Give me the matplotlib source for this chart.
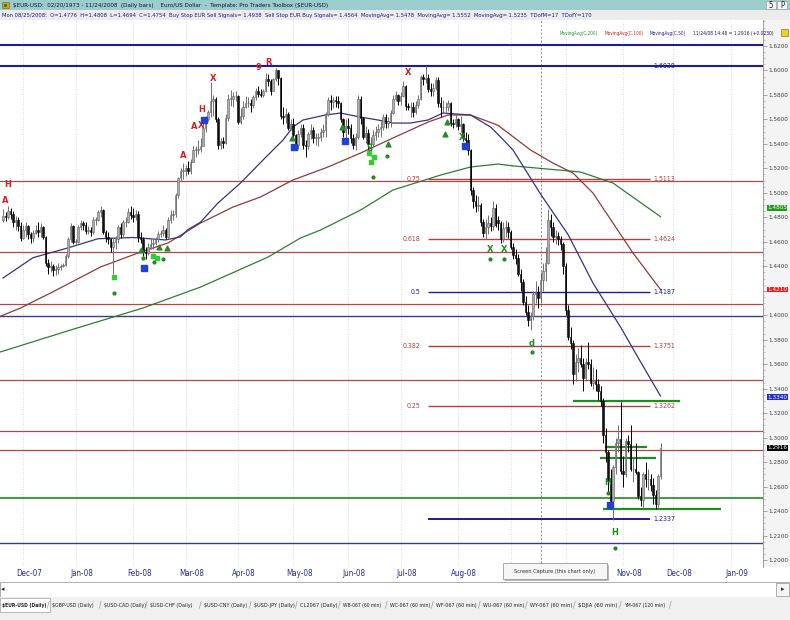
import os
import matplotlib
matplotlib.use("Agg")
import matplotlib.pyplot as plt
import matplotlib.transforms as mtrans
from matplotlib import font_manager as fm
from matplotlib.patches import Rectangle
import numpy as np
import pandas as pd

W, H = 790, 620


# ---------- pick a condensed sans font if one is installed ----------
def _find_font(bold):
    bad = ["italic", "oblique", "light", "thin", "medium", "black", "semi", "extra", "ultra", "book", "mono"]
    order = ["liberation", "dejavu", "noto", "roboto", "opensans", "lato", ""]
    found = []
    for f in fm.fontManager.ttflist:
        key = os.path.basename(f.fname).lower().replace("-", "").replace("_", "").replace(" ", "")
        if not ("narrow" in key or "condensed" in key):
            continue
        if any(b in key for b in bad):
            continue
        if bold != ("bold" in key):
            continue
        rank = next(i for i, o in enumerate(order) if o in key)
        found.append((rank, f.fname))
    found.sort()
    return found[0][1] if found else None


_reg = _find_font(False)
_bold = _find_font(True) or _reg


def FP(size, bold=False):
    path = _bold if bold else _reg
    if path:
        return fm.FontProperties(fname=path, size=size)
    return fm.FontProperties(family="Liberation Sans", size=size, weight="bold" if bold else "normal")


# ---------------- data (daily bars, 21 Nov 2007 .. 24 Nov 2008) ----------------
first_day = "2007-11-21"
last_day = "2008-11-24"

opens = [
    1.4780, 1.4810, 1.4800, 1.4850, 1.4830, 1.4760, 1.4780, 1.4730,  # Nov 07
    1.4630, 1.4700, 1.4730, 1.4660, 1.4630, 1.4670, 1.4700, 1.4680, 1.4720, 1.4640,
    1.4430, 1.4390, 1.4400, 1.4370, 1.4380, 1.4390, 1.4400, 1.4410, 1.4480, 1.4620, 1.4730,  # Dec
    1.4600, 1.4600, 1.4720, 1.4750, 1.4740, 1.4690, 1.4700, 1.4680, 1.4780, 1.4780,
    1.4840, 1.4860, 1.4680, 1.4640, 1.4620, 1.4560, 1.4600, 1.4620, 1.4720, 1.4660,
    1.4760, 1.4760, 1.4840,  # Jan
    1.4820, 1.4800, 1.4830, 1.4640, 1.4620, 1.4520, 1.4510, 1.4560, 1.4580, 1.4590,
    1.4620, 1.4660, 1.4670, 1.4700, 1.4640, 1.4780, 1.4820, 1.4830, 1.4980, 1.5120, 1.5180,  # Feb
    1.5180, 1.5200, 1.5180, 1.5250, 1.5350, 1.5350, 1.5360, 1.5380, 1.5530, 1.5600,
    1.5660, 1.5750, 1.5770, 1.5600, 1.5390, 1.5420, 1.5410, 1.5610, 1.5770, 1.5770, 1.5790,  # Mar
    1.5790, 1.5580, 1.5630, 1.5700, 1.5730, 1.5730, 1.5720, 1.5780, 1.5830, 1.5810,
    1.5800, 1.5830, 1.5930, 1.5910, 1.5830, 1.5930, 1.6000, 1.5940, 1.5630, 1.5620, 1.5640, 1.5530,  # Apr
    1.5560, 1.5470, 1.5390, 1.5480, 1.5530, 1.5390, 1.5380, 1.5480, 1.5510, 1.5450,
    1.5450, 1.5460, 1.5500, 1.5510, 1.5640, 1.5760, 1.5740, 1.5760, 1.5750, 1.5730, 1.5600, 1.5500,  # May
    1.5550, 1.5530, 1.5450, 1.5390, 1.5460, 1.5770, 1.5610, 1.5460, 1.5490, 1.5400,
    1.5400, 1.5470, 1.5500, 1.5520, 1.5540, 1.5620, 1.5570, 1.5590, 1.5650, 1.5770, 1.5800,  # Jun
    1.5750, 1.5790, 1.5870, 1.5710, 1.5700, 1.5700, 1.5660, 1.5720, 1.5770, 1.5950,
    1.5930, 1.5940, 1.5850, 1.5830, 1.5860, 1.5920, 1.5730, 1.5700, 1.5700, 1.5700,
    1.5730, 1.5570, 1.5560,  # Jul
    1.5600, 1.5550, 1.5560, 1.5450, 1.5430, 1.5350, 1.5020, 1.4930, 1.4890, 1.4900,
    1.4760, 1.4670, 1.4720, 1.4750, 1.4730, 1.4880, 1.4776, 1.4754, 1.4620, 1.4710, 1.4720,  # Aug
    1.4680, 1.4560, 1.4490, 1.4470, 1.4340, 1.4270, 1.4110, 1.4030, 1.3960, 1.3990,
    1.4170, 1.4190, 1.4140, 1.4290, 1.4360, 1.4430, 1.4780, 1.4720, 1.4640, 1.4650,
    1.4620, 1.4580,  # Sep
    1.4400, 1.4040, 1.3820, 1.3770, 1.3520, 1.3620, 1.3650, 1.3600, 1.3490, 1.3620,
    1.3600, 1.3450, 1.3460, 1.3440, 1.3380, 1.3300, 1.3020, 1.2880, 1.2650, 1.2480,
    1.2760, 1.2960, 1.2990,  # Oct
    1.2730, 1.2700, 1.2970, 1.2950, 1.2740, 1.2740, 1.2720, 1.2520, 1.2490, 1.2700,
    1.2660, 1.2660, 1.2610, 1.2530, 1.2460, 1.2686,  # Nov
]
highs = [
    1.4870, 1.4840, 1.4890, 1.4880, 1.4850, 1.4810, 1.4800, 1.4760,
    1.4740, 1.4760, 1.4740, 1.4680, 1.4700, 1.4740, 1.4760, 1.4750, 1.4730, 1.4650,
    1.4460, 1.4440, 1.4420, 1.4410, 1.4430, 1.4420, 1.4430, 1.4500, 1.4640, 1.4750, 1.4740,
    1.4620, 1.4740, 1.4780, 1.4770, 1.4760, 1.4730, 1.4720, 1.4800, 1.4800, 1.4860,
    1.4890, 1.4870, 1.4700, 1.4680, 1.4630, 1.4640, 1.4650, 1.4740, 1.4750, 1.4780,
    1.4800, 1.4880, 1.4890,
    1.4880, 1.4860, 1.4850, 1.4680, 1.4640, 1.4560, 1.4590, 1.4630, 1.4620, 1.4640,
    1.4690, 1.4700, 1.4740, 1.4710, 1.4800, 1.4860, 1.4860, 1.5000, 1.5130, 1.5200, 1.5240,
    1.5230, 1.5260, 1.5280, 1.5380, 1.5380, 1.5430, 1.5450, 1.5570, 1.5630, 1.5680,
    1.5905, 1.5800, 1.5780, 1.5620, 1.5450, 1.5460, 1.5640, 1.5810, 1.5840, 1.5820, 1.5830,
    1.5800, 1.5690, 1.5750, 1.5790, 1.5780, 1.5770, 1.5800, 1.5860, 1.5870, 1.5850,
    1.5850, 1.5980, 1.5970, 1.5930, 1.5940, 1.6019, 1.6000, 1.5950, 1.5700, 1.5690, 1.5660, 1.5600,
    1.5610, 1.5480, 1.5510, 1.5560, 1.5560, 1.5430, 1.5500, 1.5560, 1.5540, 1.5490,
    1.5490, 1.5530, 1.5560, 1.5660, 1.5780, 1.5800, 1.5780, 1.5790, 1.5790, 1.5740, 1.5610, 1.5600,
    1.5610, 1.5560, 1.5480, 1.5490, 1.5800, 1.5790, 1.5620, 1.5550, 1.5520, 1.5460,
    1.5510, 1.5550, 1.5560, 1.5590, 1.5640, 1.5640, 1.5620, 1.5680, 1.5800, 1.5830, 1.5810,
    1.5820, 1.5910, 1.5880, 1.5730, 1.5740, 1.5740, 1.5750, 1.5800, 1.5960, 1.5970,
    1.6038, 1.5970, 1.5900, 1.5900, 1.5950, 1.5950, 1.5780, 1.5760, 1.5740, 1.5760,
    1.5740, 1.5600, 1.5640,
    1.5610, 1.5630, 1.5570, 1.5500, 1.5480, 1.5360, 1.5050, 1.4980, 1.4970, 1.4920,
    1.4790, 1.4790, 1.4820, 1.4800, 1.4930, 1.4910, 1.4808, 1.4770, 1.4760, 1.4780, 1.4760,
    1.4700, 1.4590, 1.4540, 1.4500, 1.4380, 1.4300, 1.4160, 1.4080, 1.4030, 1.4200,
    1.4280, 1.4240, 1.4350, 1.4430, 1.4560, 1.4867, 1.4830, 1.4760, 1.4700, 1.4680,
    1.4650, 1.4600,
    1.4430, 1.4080, 1.3900, 1.3800, 1.3680, 1.3730, 1.3760, 1.3650, 1.3650, 1.3780,
    1.3640, 1.3580, 1.3560, 1.3480, 1.3420, 1.3320, 1.3080, 1.2900, 1.2740, 1.2780,
    1.3000, 1.3100, 1.3290,
    1.2850, 1.3000, 1.3020, 1.3100, 1.2830, 1.2960, 1.2730, 1.2600, 1.2720, 1.2800,
    1.2740, 1.2700, 1.2670, 1.2570, 1.2700, 1.2960,
]
lows = [
    1.4760, 1.4770, 1.4790, 1.4790, 1.4720, 1.4700, 1.4690, 1.4610,
    1.4620, 1.4640, 1.4620, 1.4590, 1.4600, 1.4660, 1.4640, 1.4640, 1.4620, 1.4400,
    1.4340, 1.4350, 1.4320, 1.4330, 1.4340, 1.4370, 1.4390, 1.4400, 1.4470, 1.4600, 1.4580,
    1.4580, 1.4590, 1.4700, 1.4700, 1.4660, 1.4660, 1.4650, 1.4660, 1.4740, 1.4770,
    1.4800, 1.4660, 1.4600, 1.4580, 1.4520, 1.4340, 1.4540, 1.4590, 1.4630, 1.4640,
    1.4720, 1.4750, 1.4790,
    1.4760, 1.4780, 1.4600, 1.4590, 1.4480, 1.4460, 1.4490, 1.4540, 1.4540, 1.4570,
    1.4600, 1.4640, 1.4650, 1.4620, 1.4630, 1.4750, 1.4780, 1.4800, 1.4960, 1.5100, 1.5110,
    1.5140, 1.5150, 1.5150, 1.5250, 1.5290, 1.5320, 1.5330, 1.5380, 1.5500, 1.5590,
    1.5620, 1.5630, 1.5580, 1.5360, 1.5360, 1.5370, 1.5400, 1.5590, 1.5710, 1.5700, 1.5750,
    1.5560, 1.5560, 1.5600, 1.5690, 1.5700, 1.5660, 1.5690, 1.5760, 1.5780, 1.5780,
    1.5780, 1.5820, 1.5870, 1.5800, 1.5830, 1.5910, 1.5880, 1.5600, 1.5560, 1.5570, 1.5510, 1.5510,
    1.5440, 1.5350, 1.5360, 1.5460, 1.5360, 1.5290, 1.5360, 1.5440, 1.5410, 1.5390,
    1.5380, 1.5420, 1.5460, 1.5460, 1.5630, 1.5680, 1.5690, 1.5700, 1.5690, 1.5580, 1.5460, 1.5450,
    1.5480, 1.5410, 1.5360, 1.5350, 1.5440, 1.5560, 1.5440, 1.5410, 1.5360, 1.5300,
    1.5380, 1.5430, 1.5460, 1.5460, 1.5510, 1.5530, 1.5530, 1.5540, 1.5640, 1.5750, 1.5720,
    1.5720, 1.5780, 1.5680, 1.5680, 1.5620, 1.5620, 1.5640, 1.5690, 1.5760, 1.5880,
    1.5900, 1.5820, 1.5790, 1.5790, 1.5840, 1.5700, 1.5620, 1.5650, 1.5660, 1.5670,
    1.5550, 1.5530, 1.5540,
    1.5510, 1.5500, 1.5420, 1.5400, 1.5310, 1.4980, 1.4880, 1.4840, 1.4850, 1.4730,
    1.4640, 1.4620, 1.4660, 1.4690, 1.4700, 1.4720, 1.4694, 1.4590, 1.4600, 1.4640, 1.4630,
    1.4540, 1.4460, 1.4420, 1.4320, 1.4200, 1.4080, 1.4000, 1.3910, 1.3880, 1.3960,
    1.4100, 1.4060, 1.4100, 1.4200, 1.4280, 1.4420, 1.4650, 1.4600, 1.4580, 1.4570,
    1.4530, 1.4340,
    1.4000, 1.3800, 1.3720, 1.3440, 1.3460, 1.3540, 1.3580, 1.3380, 1.3460, 1.3560,
    1.3420, 1.3400, 1.3380, 1.3310, 1.3260, 1.2960, 1.2800, 1.2540, 1.2420, 1.2330,
    1.2700, 1.2880, 1.2700,
    1.2600, 1.2680, 1.2880, 1.2730, 1.2640, 1.2700, 1.2500, 1.2440, 1.2430, 1.2600,
    1.2570, 1.2560, 1.2460, 1.2420, 1.2430, 1.2660,
]
closes = [
    1.4810, 1.4800, 1.4850, 1.4830, 1.4760, 1.4780, 1.4730, 1.4630,
    1.4700, 1.4730, 1.4660, 1.4630, 1.4670, 1.4700, 1.4680, 1.4720, 1.4640, 1.4430,
    1.4390, 1.4400, 1.4370, 1.4380, 1.4390, 1.4400, 1.4410, 1.4480, 1.4620, 1.4730, 1.4600,
    1.4600, 1.4720, 1.4750, 1.4740, 1.4690, 1.4700, 1.4680, 1.4780, 1.4780, 1.4840,
    1.4860, 1.4680, 1.4640, 1.4620, 1.4560, 1.4600, 1.4620, 1.4720, 1.4660, 1.4760,
    1.4760, 1.4840, 1.4820,
    1.4800, 1.4830, 1.4640, 1.4620, 1.4520, 1.4510, 1.4560, 1.4580, 1.4590, 1.4620,
    1.4660, 1.4670, 1.4700, 1.4640, 1.4780, 1.4820, 1.4830, 1.4980, 1.5120, 1.5180, 1.5180,
    1.5200, 1.5180, 1.5250, 1.5350, 1.5350, 1.5360, 1.5380, 1.5530, 1.5600, 1.5660,
    1.5750, 1.5770, 1.5600, 1.5390, 1.5420, 1.5410, 1.5610, 1.5770, 1.5770, 1.5790, 1.5790,
    1.5580, 1.5630, 1.5700, 1.5730, 1.5730, 1.5720, 1.5780, 1.5830, 1.5810, 1.5800,
    1.5830, 1.5930, 1.5910, 1.5830, 1.5930, 1.6000, 1.5940, 1.5630, 1.5620, 1.5640, 1.5530, 1.5560,
    1.5470, 1.5390, 1.5480, 1.5530, 1.5390, 1.5380, 1.5480, 1.5510, 1.5450, 1.5450,
    1.5460, 1.5500, 1.5510, 1.5640, 1.5760, 1.5740, 1.5760, 1.5750, 1.5730, 1.5600, 1.5500, 1.5550,
    1.5530, 1.5450, 1.5390, 1.5460, 1.5770, 1.5610, 1.5460, 1.5490, 1.5400, 1.5400,
    1.5470, 1.5500, 1.5520, 1.5540, 1.5620, 1.5570, 1.5590, 1.5650, 1.5770, 1.5800, 1.5750,
    1.5790, 1.5870, 1.5710, 1.5700, 1.5700, 1.5660, 1.5720, 1.5770, 1.5950, 1.5930,
    1.5940, 1.5850, 1.5830, 1.5860, 1.5920, 1.5730, 1.5700, 1.5700, 1.5700, 1.5730,
    1.5570, 1.5560, 1.5600,
    1.5550, 1.5560, 1.5450, 1.5430, 1.5350, 1.5020, 1.4930, 1.4890, 1.4900, 1.4760,
    1.4670, 1.4720, 1.4750, 1.4730, 1.4880, 1.4740, 1.4754, 1.4620, 1.4710, 1.4720, 1.4680,
    1.4560, 1.4490, 1.4470, 1.4340, 1.4270, 1.4110, 1.4030, 1.3960, 1.3990, 1.4170,
    1.4190, 1.4140, 1.4290, 1.4360, 1.4430, 1.4780, 1.4720, 1.4640, 1.4650, 1.4620,
    1.4580, 1.4400,
    1.4040, 1.3820, 1.3770, 1.3520, 1.3620, 1.3650, 1.3600, 1.3490, 1.3620, 1.3600,
    1.3450, 1.3460, 1.3440, 1.3380, 1.3300, 1.3020, 1.2880, 1.2650, 1.2480, 1.2760,
    1.2960, 1.2990, 1.2730,
    1.2700, 1.2970, 1.2950, 1.2740, 1.2740, 1.2720, 1.2520, 1.2490, 1.2700, 1.2660,
    1.2660, 1.2610, 1.2530, 1.2460, 1.2686, 1.2916,
]

# moving averages (bar index, value); index 0 = 3 Dec 2007
ma50_x = [-8, 4, 18, 30, 44, 57, 63, 66, 71, 78, 87, 96, 104, 108, 112, 121, 127, 135,
          142, 148, 155, 162, 168, 179, 187, 190, 196, 207, 218, 228, 239, 247, 255]
ma50_y = [1.4304, 1.4470, 1.4550, 1.4625, 1.4635, 1.4615, 1.4640, 1.4700, 1.4760, 1.4917,
          1.5080, 1.5268, 1.5431, 1.5538, 1.5595, 1.5636, 1.5652, 1.5619, 1.5595, 1.5570,
          1.5570, 1.5595, 1.5652, 1.5636, 1.5538, 1.5478, 1.5350, 1.4990, 1.4660, 1.4263,
          1.3904, 1.3620, 1.3340]
ma100_x = [-9.2, -1, 7, 11, 31, 47, 58, 71, 84, 95, 108, 122, 135, 148, 162, 170, 179,
           190, 203, 212, 220, 228, 236, 244, 255]
ma100_y = [1.3990, 1.4059, 1.4141, 1.4181, 1.4394, 1.4516, 1.4590, 1.4753, 1.4884, 1.4966,
           1.5105, 1.5211, 1.5325, 1.5448, 1.5578, 1.5636, 1.5636, 1.5552, 1.5350, 1.5243,
           1.5162, 1.4998, 1.4753, 1.4508, 1.4210]
ma200_x = [-9.2, 19, 48, 71, 98, 111, 119, 135, 148, 167, 179, 190, 196, 210, 223, 236, 255]
ma200_y = [1.3699, 1.3879, 1.4059, 1.4230, 1.4475, 1.4631, 1.4696, 1.4859, 1.5023, 1.5145,
           1.5211, 1.5235, 1.5220, 1.5194, 1.5170, 1.5080, 1.4805]

# user drawn horizontal lines
navy_levels = [1.6204, 1.6036, 1.3993, 1.2139]
red_levels = [1.5100, 1.4516, 1.4092, 1.3471, 1.3054, 1.2899]
green_levels = [1.2507]
short_green = [(1.3299, 220, 262.8), (1.2923, 232.8, 249.6), (1.2833, 230.8, 253.2), (1.2417, 232, 279.2)]

# Fibonacci retracement (ratio, price)
fib_ratio = ["", "0.75", "0.618", "0.5", "0.382", "0.25", ""]
fib_price = [1.6038, 1.5113, 1.4624, 1.4187, 1.3751, 1.3262, 1.2337]
fib_start, fib_end = 162, 250.8

# signal markers (bar index, price)
red_sig = [(-6, 1.5064, "H"), (-7, 1.4941, "A"), (64, 1.5309, "A"), (68.6, 1.5538, "A"),
           (71.4, 1.5554, "X"), (71.5, 1.5680, "H"), (76, 1.5935, "X"), (94, 1.6020, "9"),
           (98, 1.6068, "R"), (154, 1.5979, "X")]
green_sig = [(186.8, 1.4533, "X"), (192.4, 1.4533, "X"), (175.6, 1.5448, "X"),
             (203.6, 1.3773, "d"), (234, 1.2637, "H"), (236.8, 1.2221, "H"), (138.4, 1.5360, "S")]
blue_sq = [(72.4, 1.5595), (108.4, 1.5374), (128.8, 1.5423), (48.4, 1.4386), (176.8, 1.5382), (234.8, 1.2449)]
green_tri = [(107.6, 1.5448), (127.6, 1.5538), (146, 1.5399), (47.2, 1.4533), (54.4, 1.4557),
             (57.6, 1.4549), (169.6, 1.5578), (168.8, 1.5480)]
green_dot = [(36.4, 1.4181), (145.6, 1.5301), (140, 1.5129), (48, 1.4467), (52.4, 1.4435),
             (56, 1.4460), (234, 1.2547), (236.8, 1.2098), (203.6, 1.3700), (186.8, 1.4460), (192.4, 1.4460)]
green_sq = [(36.4, 1.4312), (138.4, 1.5325), (140.4, 1.5292), (52, 1.4484), (53.6, 1.4467), (139.2, 1.5250)]

# price boxes on the axis: (value shown, colour)
axis_boxes = [(1.4805, "#1e9a1e"), (1.4210, "#e02020"), (1.3340, "#2030d0"), (1.2916, "#000000")]

tabs = [r"\$EUR-USD (Daily)", r"\$GBP-USD (Daily)", r"\$USD-CAD (Daily)", r"\$USD-CHF (Daily)",
        r"\$USD-CNY (Daily)", r"\$USD-JPY (Daily)", "CL2067 (Daily)", "WB-067 (60 min)",
        "WC-067 (60 min)", "WF-067 (60 min)", "WU-067 (60 min)", "WY-067 (60 min)",
        r"\$DJIA (60 min)", "YM-067 (120 min)"]

title1 = r"\$EUR-USD:  02/20/1973 - 11/24/2008  (Daily bars)    Euro/US Dollar  -  Template: Pro Traders Toolbox (\$EUR-USD)"
title2 = ("Mon 08/25/2008:  O=1.4776  H=1.4808  L=1.4694  C=1.4754  Buy Stop EUR Sell Signals= 1.4938  "
          "Sell Stop EUR Buy Signals= 1.4564  MovingAvg= 1.5478  MovingAvg= 1.5552  MovingAvg= 1.5235  TDofM=17  TDofY=170")

# ---------------- figure ----------------
fig = plt.figure(figsize=(W / 100, H / 100), dpi=100, facecolor="#f0f0f0")
renderer = fig.canvas.get_renderer()


def frect(x0, y0, x1, y1, fc, ec="none", lw=0, z=-5):
    fig.patches.append(Rectangle((x0 / W, 1 - y1 / H), (x1 - x0) / W, (y1 - y0) / H,
                                 transform=fig.transFigure, fc=fc, ec=ec, lw=lw, zorder=z))


def ftext(x, y, s, w=None, size=5.0, bold=False, zorder=3, **kw):
    t = fig.text(x / W, 1 - y / H, s, fontproperties=FP(size, bold), va="center", zorder=zorder, **kw)
    if w:
        bb = t.get_window_extent(renderer=renderer)
        t.set_fontsize(size * w / bb.width)
    return t


# bands
frect(0, 0, W, 10, "#9ccccc")
frect(0, 10, W, 20, "#ececec")
frect(763, 20, W, 567, "#f4f4f4")
frect(0, 567, W, 582, "#ffffff")
frect(0, 582, W, 597, "#ffffff", ec="#a0a0a0", lw=0.6)
frect(0, 597, W, H, "#f0f0f0")

frect(2, 2, 9, 8, "#d4a020", ec="#806000", lw=0.4, z=2)
frect(4, 4, 7, 7, "#2a8a2a", z=3)
ftext(13, 5, title1, w=318, color="#101040", ha="left")
ftext(2, 15, title2, w=600, color="#1a1a80", ha="left")
frect(766, 1, 776, 9, "#f4f4f4", ec="#909090", lw=0.4, z=2)
frect(777, 1, 787, 9, "#f4f4f4", ec="#909090", lw=0.4, z=2)
ftext(771, 5, "5", size=5.5, color="#202020", ha="center")
ftext(782, 5, "P", size=5.5, color="#202020", ha="center")

# ---------------- main axes ----------------
ax = fig.add_axes([0, 1 - 567 / H, 763 / W, (567 - 20) / H])
ax.set_facecolor("white")
ax.set_xlim(-9.2, 296)
ax.set_ylim(1.1943, 1.6412)

o = np.array(opens); h = np.array(highs); l = np.array(lows); c = np.array(closes)
dates = pd.bdate_range(first_day, last_day)
assert len(dates) == len(c) == len(o) == len(h) == len(l)
x = np.arange(len(c)) - 8

# month grid + labels (Sep/Oct labels are hidden under the capture tooltip)
all_days = pd.bdate_range(first_day, "2009-01-30")
pos = np.arange(len(all_days)) - 8
mstarts = [(p, d) for i, (p, d) in enumerate(zip(pos, all_days)) if i > 0 and d.month != all_days[i - 1].month]
blend = mtrans.blended_transform_factory(ax.transData, fig.transFigure)
for p, d in mstarts:
    ax.axvline(p, color="#cfcfcf", lw=0.6, ls=(0, (1, 2)), zorder=0.5)
    if d.year == 2008 and d.month in (9, 10):
        continue
    ax.text(p + 2.5, 1 - 574 / H, d.strftime("%b-%y"), transform=blend, fontproperties=FP(5.8),
            color="#2a2a8a", ha="center", va="center", clip_on=False)
ax.axvline(207, color="#909090", lw=0.7, ls=(0, (2, 2)), zorder=0.6)

# horizontal lines
for i, v in enumerate(navy_levels):
    ax.axhline(v, color="#1c1ca0" if i < 2 else "#3a3a90", lw=1.5 if i < 2 else 1.0, zorder=1)
for v in red_levels:
    ax.axhline(v, color="#b04848", lw=0.9, zorder=1)
for v in green_levels:
    ax.axhline(v, color="#1e8c1e", lw=1.2, zorder=1)
for v, a, b in short_green:
    ax.hlines(v, a, b, color="#1e8c1e", lw=1.6, zorder=1.2)

# fibonacci
for r, v in zip(fib_ratio, fib_price):
    col = "#1c1c9a" if r in ("", "0.5") else "#b04040"
    ax.hlines(v, fib_start, fib_end, color=col, lw=1.0 if r else 1.4, zorder=1.1)
    ax.text(fib_end + 1.5, v, f"{v:.4f}", fontproperties=FP(5), color=col, va="center", ha="left")
    if r:
        ax.text(fib_start - 3, v, r, fontproperties=FP(5), color=col, va="center", ha="right")

# moving averages
ax.plot(ma200_x, ma200_y, color="#2e7d32", lw=0.9, zorder=2)
ax.plot(ma100_x, ma100_y, color="#8e3a3a", lw=0.9, zorder=2)
ax.plot(ma50_x, ma50_y, color="#34347e", lw=0.9, zorder=2)

# candles
up = c >= o
lo_b = np.minimum(o, c)
hb = np.maximum(np.abs(c - o), 0.0004)
ax.vlines(x[up], l[up], h[up], color="#707070", lw=0.7, zorder=3)
ax.vlines(x[~up], l[~up], h[~up], color="#000000", lw=0.7, zorder=3)
ax.bar(x[up], hb[up], bottom=lo_b[up], width=0.75, color="#b0b0b0", edgecolor="#606060", linewidth=0.4, zorder=3.1)
ax.bar(x[~up], hb[~up], bottom=lo_b[~up], width=0.75, color="#111111", edgecolor="#000000", linewidth=0.4, zorder=3.1)

# signals
for xi, yi, s in red_sig:
    ax.text(xi, yi, s, color="#d02020", fontsize=6, fontweight="bold", ha="center", va="center", zorder=4)
for xi, yi, s in green_sig:
    ax.text(xi, yi, s, color="#1f8a1f", fontsize=6, fontweight="bold", ha="center", va="center", zorder=4)
ax.scatter([p[0] for p in blue_sq], [p[1] for p in blue_sq], marker="s", s=14, color="#2040d8", zorder=4)
ax.scatter([p[0] for p in green_tri], [p[1] for p in green_tri], marker="^", s=12, color="#2a8a2a", zorder=4)
ax.scatter([p[0] for p in green_dot], [p[1] for p in green_dot], marker="o", s=4, color="#1f8a1f", zorder=4)
ax.scatter([p[0] for p in green_sq], [p[1] for p in green_sq], marker="s", s=10, color="#33cc33", zorder=4)

# right axis
for s in ("top", "left", "bottom"):
    ax.spines[s].set_visible(False)
ax.spines["right"].set_color("#909090")
ax.spines["right"].set_linewidth(0.6)
ax.yaxis.tick_right()
tick_vals = np.round(np.arange(1.20, 1.6201, 0.02), 2)
ax.set_yticks(tick_vals)
ax.set_yticks(np.arange(1.20, 1.6401, 0.005), minor=True)
ax.set_yticklabels(["" if abs(v - 1.42) < 1e-6 else f"{v:.4f}" for v in tick_vals])
for lbl in ax.get_yticklabels():
    lbl.set_fontproperties(FP(4.6))
ax.tick_params(axis="y", which="major", length=3, width=0.5, color="#808080", labelcolor="#404040", pad=1)
ax.tick_params(axis="y", which="minor", length=1.5, width=0.4, color="#a0a0a0")
ax.set_xticks([])
yblend = mtrans.blended_transform_factory(ax.transAxes, ax.transData)
box_pos = {1.4805: 1.4878, 1.3340: 1.3330}  # boxes nudged clear of the tick labels, as on screen
for v, col in axis_boxes:
    ax.text(1.0055, box_pos.get(v, v), f"{v:.4f}", transform=yblend, fontproperties=FP(4.6), color="white",
            ha="left", va="center", zorder=10, clip_on=False,
            bbox=dict(boxstyle="square,pad=0.06", fc=col, ec="none"))

# legend line top-right
ftext(560, 33, "MovingAvg(C,200)", w=38, color="#2e8b2e", ha="left")
ftext(605, 33, "MovingAvg(C,100)", w=39, color="#cc2222", ha="left")
ftext(650, 33, "MovingAvg(C,50)", w=37, color="#22229a", ha="left")
ftext(693, 33, "11/24/08 14:48 = 1.2916 (+0.0230)", w=82, color="#1a1a60", ha="left")
frect(781, 29, 788, 36, "#f0d020", ec="#806000", lw=0.4, z=5)

# screen capture tooltip
frect(505, 565, 609, 581, "#b8b8b8", z=5)
frect(503, 563, 607, 579, "#f6f6f6", ec="#9a9a9a", lw=0.6, z=6)
ftext(555, 571, "Screen Capture (this chart only)", w=82, color="#303030", ha="center", zorder=7)

# scrollbar arrows
fig.text(3 / W, 1 - 589 / H, "\u25c2", fontsize=5, color="#303030", ha="center", va="center", family="DejaVu Sans")
frect(776, 583, 789, 596, "#f4f4f4", ec="#909090", lw=0.5, z=2)
fig.text(782.5 / W, 1 - 589.5 / H, "\u25b8", fontsize=5, color="#303030", ha="center", va="center",
         family="DejaVu Sans", zorder=3)

# tabs
tab_x = [2, 52, 104, 150, 204, 254, 300, 343, 390, 436, 483, 530, 578, 624]
tab_w = [45, 42, 43, 43, 44, 42, 38, 39, 41, 41, 42, 42, 40, 42]
frect(0, 598, 50, 612, "#ffffff", ec="#a0a0a0", lw=0.5, z=1)
for i, (t, xx, ww) in enumerate(zip(tabs, tab_x, tab_w)):
    ftext(xx, 605, t, w=ww, bold=(i == 0), color="#202020", ha="left")
    if i > 0:
        ftext(xx - 4, 605, "/", size=6, color="#909090", ha="center")
ftext(xx + ww + 4, 605, "/", size=6, color="#909090", ha="center")

fig.savefig("out.png", dpi=100, facecolor=fig.get_facecolor())
